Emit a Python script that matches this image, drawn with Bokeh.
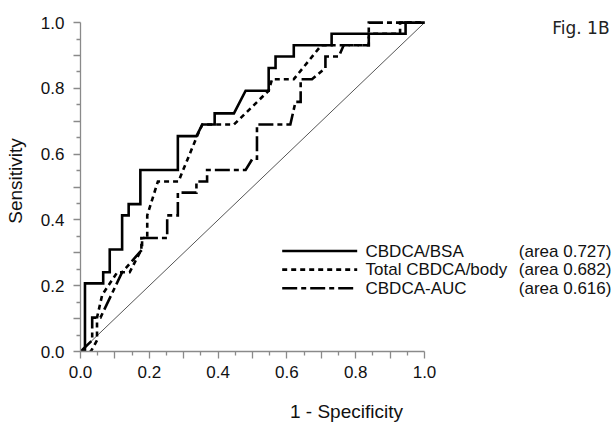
from bokeh.plotting import figure
from bokeh.models import Range1d, FixedTicker, Label
from bokeh.core.properties import value
from bokeh.embed import file_html
from bokeh.resources import INLINE

# ---- data ----
names = ["CBDCA/BSA", "Total CBDCA/body", "CBDCA-AUC"]
areas = [0.727, 0.682, 0.616]

bsa_fpr = [0, 0.013, 0.013, 0.066, 0.066, 0.085, 0.085, 0.121, 0.121, 0.14, 0.14, 0.174, 0.174,
           0.283, 0.283, 0.337, 0.354, 0.39, 0.39, 0.446, 0.48, 0.547, 0.547, 0.567, 0.567,
           0.62, 0.62, 0.73, 0.73, 0.945, 0.945, 1.0]
bsa_tpr = [0, 0, 0.207, 0.207, 0.241, 0.241, 0.310, 0.310, 0.414, 0.414, 0.448, 0.448, 0.552,
           0.552, 0.655, 0.655, 0.690, 0.690, 0.724, 0.724, 0.793, 0.793, 0.862, 0.862, 0.897,
           0.897, 0.931, 0.931, 0.966, 0.966, 1.0, 1.0]

body_fpr = [0, 0.03, 0.048, 0.048, 0.063, 0.107, 0.143, 0.177, 0.177, 0.194, 0.194, 0.225, 0.285,
            0.291, 0.339, 0.354, 0.446, 0.547, 0.557, 0.62, 0.70, 0.838, 0.838, 0.929, 0.929, 1.0]
body_tpr = [0, 0, 0.034, 0.103, 0.172, 0.241, 0.241, 0.31, 0.345, 0.345, 0.414, 0.517, 0.517,
            0.533, 0.655, 0.690, 0.690, 0.793, 0.828, 0.828, 0.931, 0.931, 0.966, 0.966, 1.0, 1.0]

auc_fpr = [0, 0.034, 0.034, 0.058, 0.121, 0.179, 0.179, 0.252, 0.252, 0.283, 0.283, 0.337, 0.337,
           0.368, 0.368, 0.48, 0.50, 0.513, 0.513, 0.61, 0.625, 0.64, 0.64, 0.673, 0.712, 0.712,
           0.751, 0.765, 0.838, 0.838, 1.0]
auc_tpr = [0, 0.034, 0.103, 0.103, 0.241, 0.31, 0.345, 0.345, 0.414, 0.414, 0.483, 0.483, 0.517,
           0.517, 0.552, 0.552, 0.586, 0.586, 0.690, 0.690, 0.759, 0.759, 0.828, 0.828, 0.862,
           0.897, 0.897, 0.931, 0.931, 1.0, 1.0]

ref_line = [0.0, 1.0]

major_ticks = [0.0, 0.1, 0.2, 0.3, 0.4, 0.5, 0.6, 0.7, 0.8, 0.9, 1.0]
tick_labels = ["0.0", "", "0.2", "", "0.4", "", "0.6", "", "0.8", "", "1.0"]
minor_ticks = [0.05, 0.15, 0.25, 0.35, 0.45, 0.55, 0.65, 0.75, 0.85, 0.95]

# ---- layout (window pixel coordinates) ----
W, H = 615, 424
left, right, top, bottom = 80, 3, 10, 62
px_x = 344.0
px_y = 339.5
x0_win = left                 # x = 0 line
y0_win = H - bottom           # y = 0 line
xmax = (W - left - right) / px_x
ymax = (H - top - bottom) / px_y

def wx(x_win):
    return (x_win - x0_win) / px_x

def wy(y_win):
    return (y0_win - y_win) / px_y

p = figure(width=W, height=H, output_backend="svg", toolbar_location=None,
           x_range=Range1d(0, xmax), y_range=Range1d(0, ymax),
           min_border_left=left, min_border_right=right,
           min_border_top=top, min_border_bottom=bottom)
p.outline_line_color = None
p.xgrid.visible = False
p.ygrid.visible = False
p.background_fill_color = "white"

FONT = "Liberation Sans"
overrides = {t: l for t, l in zip(major_ticks, tick_labels)}
for ax in (p.xaxis[0], p.yaxis[0]):
    ax.bounds = (0, 1)
    ax.ticker = FixedTicker(ticks=major_ticks, minor_ticks=minor_ticks)
    ax.major_label_overrides = overrides
    ax.axis_line_color = "#8a8a8a"
    ax.axis_line_width = 1.3
    ax.major_tick_line_color = "#8a8a8a"
    ax.minor_tick_line_color = "#8a8a8a"
    ax.major_tick_line_width = 1.3
    ax.minor_tick_line_width = 1.3
    ax.major_tick_in = 0
    ax.major_tick_out = 7
    ax.minor_tick_in = 0
    ax.minor_tick_out = 4
    ax.major_label_text_font = FONT
    ax.major_label_text_font_size = "17px"
    ax.major_label_text_color = "#111111"
    ax.axis_label_text_font = FONT
    ax.axis_label_text_font_size = "19px"
    ax.axis_label_text_font_style = "normal"
    ax.axis_label_text_color = "#111111"

p.xaxis.axis_label = "1 - Specificity"
p.yaxis.axis_label = "Sensitivity"
p.xaxis.major_label_standoff = 7
p.yaxis.major_label_standoff = 9
p.xaxis.axis_label_standoff = 20
p.yaxis.axis_label_standoff = 12

# chance line
p.line(ref_line, ref_line, line_color="#555555", line_width=1)

styles = [dict(), dict(line_dash="5 4"), dict(line_dash="15 4 5 4")]
curves = [(bsa_fpr, bsa_tpr), (body_fpr, body_tpr), (auc_fpr, auc_tpr)]
for (fx, ty), st in zip(curves, styles):
    p.line(fx, ty, line_color="black", line_width=2.6, line_join="miter", **st)

# legend block: key line, series name, area value (one row per series)
row_h = 19.2
first_row_center = 258.3
key_x0, key_x1 = wx(281.7), wx(356.7)
name_x = wx(365.0)
area_x = wx(518.3)
row_y = [wy(first_row_center + i * row_h) for i in range(len(names))]
for yy, st in zip(row_y, styles):
    p.line([key_x0, key_x1], [yy, yy], line_color="black", line_width=2.6, **st)
p.text(x=[name_x] * len(names), y=row_y, text=names,
       text_font=value(FONT), text_font_size="17px", text_baseline="middle",
       text_align="left", text_color="#111111")
p.text(x=[area_x] * len(names), y=row_y, text=["(area %.3f)" % a for a in areas],
       text_font=value(FONT), text_font_size="17px", text_baseline="middle",
       text_align="left", text_color="#111111")

fig_label = Label(x=wx(551.7), y=wy(28.3), text="Fig. 1B",
                  text_font="DejaVu Sans", text_font_size="17px",
                  text_baseline="alphabetic", text_color="#222222")
p.add_layout(fig_label)

open("out.html", "w").write(file_html(p, INLINE))
